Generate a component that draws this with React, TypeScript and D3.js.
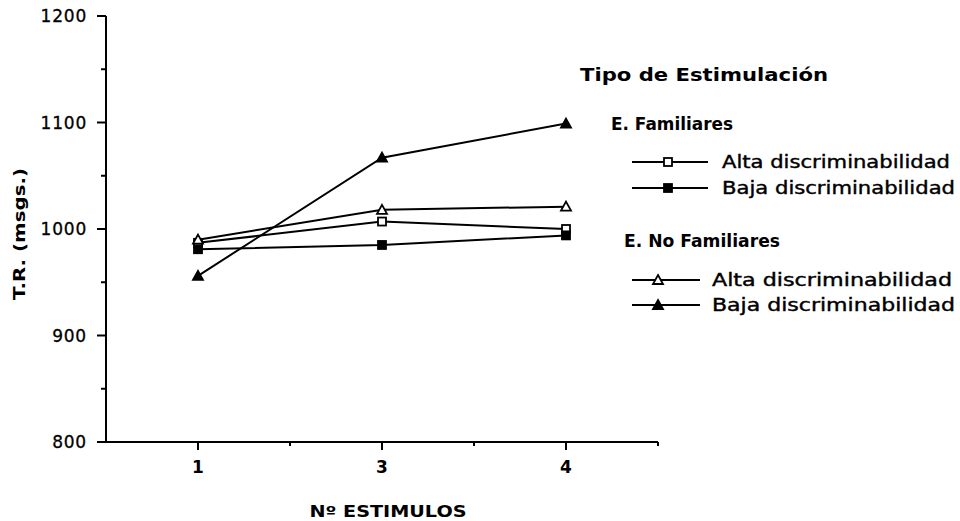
import React from "react";
import * as d3 from "d3";

const categories = ["1", "3", "4"];
const famAlta = [987, 1007, 1000];
const famBaja = [981, 985, 994];
const noFamAlta = [990, 1018, 1021];
const noFamBaja = [956, 1067, 1099];
const yTicks = [800, 900, 1000, 1100, 1200];

const W = 960;
const H = 521;

type Marker = "sqOpen" | "sqFill" | "triOpen" | "triFill";

const series: { name: string; values: number[]; marker: Marker }[] = [
  { name: "famAlta", values: famAlta, marker: "sqOpen" },
  { name: "famBaja", values: famBaja, marker: "sqFill" },
  { name: "noFamAlta", values: noFamAlta, marker: "triOpen" },
  { name: "noFamBaja", values: noFamBaja, marker: "triFill" },
];

function MarkerShape({ type, x, y }: { type: Marker; x: number; y: number }) {
  if (type === "sqOpen" || type === "sqFill") {
    return (
      <rect
        x={x - 4}
        y={y - 4}
        width={8}
        height={8}
        fill={type === "sqFill" ? "#000" : "#fff"}
        stroke="#000"
        strokeWidth={1.8}
      />
    );
  }
  const p = `M${x},${y - 5} L${x + 5},${y + 4} L${x - 5},${y + 4} Z`;
  return (
    <path
      d={p}
      fill={type === "triFill" ? "#000" : "#fff"}
      stroke="#000"
      strokeWidth={1.8}
      strokeLinejoin="miter"
    />
  );
}

export default function App() {
  const x = d3.scalePoint<string>().domain(categories).range([106, 658]).padding(0.5);
  const y = d3.scaleLinear().domain([800, 1200]).range([442, 16]);
  const step = x.step();
  const minorY = d3.range(850, 1200, 100);
  const line = d3
    .line<number>()
    .x((_, i) => x(categories[i]) as number)
    .y((d) => y(d));

  const font = "'DejaVu Sans', Verdana, sans-serif";

  const legendRows = [
    { label: "Alta discriminabilidad", marker: "sqOpen" as Marker, y: 162, lx0: 632, lx1: 708, mx: 668, tx: 722, tl: 228 },
    { label: "Baja discriminabilidad", marker: "sqFill" as Marker, y: 188, lx0: 632, lx1: 708, mx: 668, tx: 722, tl: 233 },
    { label: "Alta discriminabilidad", marker: "triOpen" as Marker, y: 280, lx0: 632, lx1: 700, mx: 658, tx: 712, tl: 240 },
    { label: "Baja discriminabilidad", marker: "triFill" as Marker, y: 305, lx0: 632, lx1: 700, mx: 658, tx: 712, tl: 243 },
  ];

  return (
    <svg
      width={W}
      height={H}
      style={{ position: "absolute", left: 0, top: 0, background: "#fff" }}
      fontFamily={font}
    >
      {/* Y axis */}
      <line x1={106} x2={106} y1={y(1200)} y2={y(800)} stroke="#000" strokeWidth={2} />
      {yTicks.map((t) => (
        <g key={t}>
          <line x1={97} x2={106} y1={y(t)} y2={y(t)} stroke="#000" strokeWidth={2} />
          <text
            x={87}
            y={y(t)}
            textAnchor="end"
            dominantBaseline="central"
            fontSize={17}
            letterSpacing={0.8}
            stroke="#000"
            strokeWidth={0.3}
          >
            {t}
          </text>
        </g>
      ))}
      {minorY.map((t) => (
        <line key={t} x1={101} x2={106} y1={y(t)} y2={y(t)} stroke="#000" strokeWidth={2} />
      ))}

      {/* X axis */}
      <line x1={106} x2={658} y1={442} y2={442} stroke="#000" strokeWidth={2} />
      {categories.map((c) => (
        <g key={c}>
          <line x1={x(c)} x2={x(c)} y1={442} y2={450} stroke="#000" strokeWidth={2} />
          <line
            x1={(x(c) as number) + step / 2}
            x2={(x(c) as number) + step / 2}
            y1={442}
            y2={446}
            stroke="#000"
            strokeWidth={2}
          />
          <text x={x(c)} y={467} textAnchor="middle" dominantBaseline="central" fontSize={17} fontWeight="bold">
            {c}
          </text>
        </g>
      ))}

      {/* Axis titles */}
      <text
        x={388}
        y={511}
        textAnchor="middle"
        dominantBaseline="central"
        fontSize={16}
        fontWeight="bold"
        textLength={157}
        lengthAdjust="spacingAndGlyphs"
      >
        Nº ESTIMULOS
      </text>
      <text
        transform="translate(20,234) rotate(-90)"
        textAnchor="middle"
        dominantBaseline="central"
        fontSize={15}
        fontWeight="bold"
        textLength={132}
        lengthAdjust="spacingAndGlyphs"
      >
        T.R. (msgs.)
      </text>

      {/* Lines */}
      {series.map((s) => (
        <path key={s.name} d={line(s.values) || ""} fill="none" stroke="#000" strokeWidth={2} />
      ))}
      {series.map((s) =>
        s.values.map((v, i) => (
          <MarkerShape key={s.name + i} type={s.marker} x={x(categories[i]) as number} y={y(v)} />
        ))
      )}

      {/* Legend */}
      <text x={580} y={75} dominantBaseline="central" fontSize={17} fontWeight="bold" textLength={248} lengthAdjust="spacingAndGlyphs">
        Tipo de Estimulación
      </text>
      <text x={611} y={124} dominantBaseline="central" fontSize={17} fontWeight="bold" textLength={122} lengthAdjust="spacingAndGlyphs">
        E. Familiares
      </text>
      <text x={624} y={241} dominantBaseline="central" fontSize={17} fontWeight="bold" textLength={156} lengthAdjust="spacingAndGlyphs">
        E. No Familiares
      </text>
      {legendRows.map((r, i) => (
        <g key={i}>
          <line x1={r.lx0} x2={r.lx1} y1={r.y} y2={r.y} stroke="#000" strokeWidth={1.8} />
          <MarkerShape type={r.marker} x={r.mx} y={r.y} />
          <text
            x={r.tx}
            y={r.y}
            dominantBaseline="central"
            fontSize={17}
            stroke="#000"
            strokeWidth={0.4}
            textLength={r.tl}
            lengthAdjust="spacingAndGlyphs"
          >
            {r.label}
          </text>
        </g>
      ))}
    </svg>
  );
}
